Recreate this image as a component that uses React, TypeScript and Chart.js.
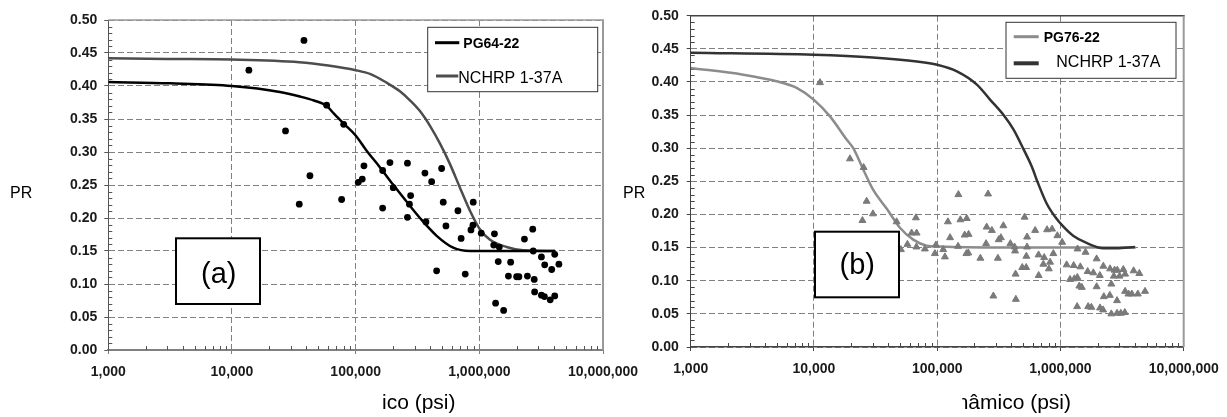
import React, { useEffect, useRef } from "react";
import { Chart, registerables } from "chart.js";

Chart.register(...registerables);

const FONT = "'Liberation Sans', Arial, Helvetica, sans-serif";
Chart.defaults.font.family = FONT;

// ---- axis ticks ----
const xTickValues = [1000, 10000, 100000, 1000000, 10000000];
const yTickValues = [0, 0.05, 0.1, 0.15, 0.2, 0.25, 0.3, 0.35, 0.4, 0.45, 0.5];

// ---- panel (a): PG64-22 measured points ----
const aDotsX = [
  38200, 13700, 58300, 27100, 80000, 42700, 35000, 77000, 116700, 105000,
  113100, 165300, 189400, 262300, 363200, 411600, 495700, 201400, 278400, 272200,
  165300, 262300, 370000, 510800, 671400, 892700, 537000, 887800, 855500, 712800,
  1036000, 1325000, 1307000, 1449000, 451600, 769200, 1422000, 1791000, 2316000, 2703000,
  2728000, 3177000, 4071000, 3378000, 3848000, 4401000, 1719000, 2003000, 2090000, 2448000,
  2779000, 2800000, 3177000, 3359000, 3742000, 4071000, 1354000, 1572000,
];
const aDotsY = [
  0.469, 0.424, 0.371, 0.332, 0.342, 0.264, 0.221, 0.228, 0.279, 0.254,
  0.259, 0.272, 0.284, 0.283, 0.268, 0.255, 0.275, 0.246, 0.234, 0.221,
  0.215, 0.201, 0.194, 0.224, 0.211, 0.224, 0.188, 0.189, 0.182, 0.169,
  0.177, 0.176, 0.159, 0.156, 0.120, 0.115, 0.134, 0.133, 0.168, 0.183,
  0.150, 0.141, 0.145, 0.129, 0.122, 0.130, 0.112, 0.111, 0.111, 0.112,
  0.107, 0.088, 0.083, 0.081, 0.076, 0.082, 0.071, 0.060,
];
// PG64-22 fitted curve
const aPG64X = [1000, 3150, 10000, 24400, 35500, 46000, 58300, 66800, 80000, 100000, 122700, 157000, 200000, 255000, 331000, 452000, 615000, 840000, 1460000, 4100000];
const aPG64Y = [0.406, 0.404, 0.400, 0.391, 0.384, 0.378, 0.370, 0.358, 0.343, 0.325, 0.302, 0.277, 0.251, 0.226, 0.200, 0.173, 0.155, 0.150, 0.150, 0.150];
// NCHRP 1-37A curve (a)
const aNchrpX = [1000, 3000, 10000, 35000, 60000, 100000, 132000, 178000, 228000, 276000, 331000, 398000, 480000, 578000, 697000, 840000, 1010000, 1220000, 1660000, 2250000, 4100000];
const aNchrpY = [0.442, 0.441, 0.440, 0.436, 0.431, 0.424, 0.418, 0.405, 0.392, 0.378, 0.362, 0.340, 0.313, 0.282, 0.246, 0.211, 0.183, 0.167, 0.156, 0.151, 0.150];

// ---- panel (b): PG76-22 measured points ----
const bPtsX = [
  11190, 19590, 25300, 26760, 24740, 30100, 46850, 67190, 62000, 68080,
  57330, 67800, 79470, 95790, 97590, 50770, 148600, 258700, 111900, 115500,
  122100, 154250, 173500, 127200, 167100, 179800, 147700, 172500, 178800, 224000,
  252000, 277700, 249200, 310700, 315400, 328600, 344300, 392500, 424300, 428400,
  432400, 511600, 536000, 536000, 529000, 489900, 527100, 623500, 664400, 737600,
  726700, 823500, 805200, 875700, 665600, 778500, 855000, 943900, 1032000, 285600,
  434800, 1123000, 1280000, 1450000, 1196000, 1296000, 1371000, 1376000, 1598000, 1966000,
  1662000, 1849000, 2087000, 2228000, 2525000, 2747000, 2894000, 3236000, 2711000, 3015000,
  3347000, 3924000, 4364000, 2587000, 1423000, 1491000, 1966000, 2249000, 2515000, 2878000,
  3347000, 3567000, 3794000, 4243000, 4855000, 1366000, 1678000, 1781000, 2095000, 2220000,
  2587000, 2878000, 3090000, 3328000,
];
const bPtsY = [
  0.399, 0.284, 0.271, 0.220, 0.191, 0.201, 0.189, 0.195, 0.172, 0.172,
  0.155, 0.151, 0.148, 0.141, 0.154, 0.147, 0.230, 0.231, 0.147, 0.136,
  0.189, 0.192, 0.194, 0.165, 0.169, 0.170, 0.152, 0.141, 0.142, 0.134,
  0.181, 0.176, 0.156, 0.134, 0.162, 0.165, 0.183, 0.156, 0.151, 0.145,
  0.110, 0.196, 0.166, 0.151, 0.137, 0.120, 0.120, 0.176, 0.139, 0.135,
  0.125, 0.128, 0.118, 0.141, 0.108, 0.177, 0.178, 0.168, 0.158, 0.077,
  0.072, 0.124, 0.123, 0.121, 0.102, 0.103, 0.105, 0.148, 0.143, 0.133,
  0.114, 0.112, 0.108, 0.122, 0.118, 0.116, 0.116, 0.117, 0.107, 0.107,
  0.110, 0.115, 0.111, 0.095, 0.092, 0.090, 0.091, 0.076, 0.078, 0.070,
  0.084, 0.080, 0.080, 0.080, 0.084, 0.061, 0.061, 0.060, 0.059, 0.056,
  0.050, 0.051, 0.051, 0.052,
];
// PG76-22 fitted curve
const bPG76X = [1000, 2670, 4980, 7240, 10000, 13490, 18420, 20830, 25110, 30270, 38870, 49840, 63890, 82040, 105200, 322500, 1000000, 4080000];
const bPG76Y = [0.421, 0.411, 0.401, 0.391, 0.373, 0.348, 0.313, 0.300, 0.268, 0.237, 0.209, 0.180, 0.162, 0.153, 0.1515, 0.150, 0.150, 0.150];
// NCHRP 1-37A curve (b)
const bNchrpX = [1000, 10000, 30000, 68460, 100000, 144500, 209900, 269400, 345500, 416500, 500000, 586000, 652000, 771000, 901000, 1052000, 1268000, 1629000, 2220000, 2850000, 4020000];
const bNchrpY = [0.444, 0.441, 0.437, 0.431, 0.426, 0.416, 0.396, 0.373, 0.350, 0.328, 0.299, 0.272, 0.249, 0.217, 0.197, 0.182, 0.168, 0.157, 0.149, 0.149, 0.151];

type Pt = { x: number; y: number };
const zip = (xs: number[], ys: number[]): Pt[] => xs.map((x, i) => ({ x, y: ys[i] }));

interface LegendRow {
  text: string; bold: boolean; size: number; color: string; lineWidth: number;
  x1: number; x2: number; ly: number; tx: number; ty: number;
}
interface Box { x: number; y: number; w: number; h: number }
interface Decor {
  pr: { x: number; y: number };
  title: { text: string; x: number; y: number; align: CanvasTextAlign; clipLeft?: number };
  legendBox: Box;
  legendRows: LegendRow[];
  tagBox: Box;
  tag: { text: string; x: number; y: number };
  topColor: string; topWidth: number;
  rightColor: string; rightWidth: number;
  minorColor: string;
}

function makeDecor(d: Decor) {
  return {
    id: "decor",
    beforeDatasetsDraw(chart: any) {
      const { ctx, chartArea: a, scales } = chart;
      ctx.save();
      ctx.lineWidth = d.topWidth;
      ctx.strokeStyle = d.topColor;
      ctx.beginPath();
      ctx.moveTo(a.left, a.top);
      ctx.lineTo(a.right + d.rightWidth / 2, a.top);
      ctx.stroke();
      ctx.lineWidth = d.rightWidth;
      ctx.strokeStyle = d.rightColor;
      ctx.beginPath();
      ctx.moveTo(a.right, a.top);
      ctx.lineTo(a.right, a.bottom);
      ctx.stroke();
      // minor ticks
      ctx.lineWidth = 1;
      ctx.strokeStyle = d.minorColor;
      ctx.beginPath();
      for (let k = 1; k < 50; k++) {
        if (k % 5 === 0) continue;
        const py = Math.round(scales.y.getPixelForValue(k / 100)) + 0.5;
        ctx.moveTo(a.left, py);
        ctx.lineTo(a.left + 4, py);
      }
      for (let e = 3; e < 7; e++) {
        for (let m = 2; m < 10; m++) {
          const px = Math.round(scales.x.getPixelForValue(m * Math.pow(10, e))) + 0.5;
          ctx.moveTo(px, a.bottom);
          ctx.lineTo(px, a.bottom - 4);
        }
      }
      ctx.stroke();
      ctx.restore();
    },
    afterDraw(chart: any) {
      const ctx: CanvasRenderingContext2D = chart.ctx;
      ctx.save();
      ctx.fillStyle = "#000";
      ctx.textBaseline = "alphabetic";
      // PR label
      ctx.font = `16px ${FONT}`;
      ctx.textAlign = "left";
      ctx.fillText("PR", d.pr.x, d.pr.y);
      // x title (clipped as in the source)
      ctx.save();
      if (d.title.clipLeft !== undefined) {
        ctx.beginPath();
        ctx.rect(d.title.clipLeft, 370, 400, 47);
        ctx.clip();
      }
      ctx.font = `21px ${FONT}`;
      ctx.textAlign = d.title.align;
      ctx.fillText(d.title.text, d.title.x, d.title.y);
      ctx.restore();
      // legend
      const lb = d.legendBox;
      ctx.fillStyle = "#fff";
      ctx.fillRect(lb.x, lb.y, lb.w, lb.h);
      ctx.strokeStyle = "#333";
      ctx.lineWidth = 1;
      ctx.strokeRect(lb.x, lb.y, lb.w, lb.h);
      for (const r of d.legendRows) {
        ctx.strokeStyle = r.color;
        ctx.lineWidth = r.lineWidth;
        ctx.beginPath();
        ctx.moveTo(r.x1, r.ly);
        ctx.lineTo(r.x2, r.ly);
        ctx.stroke();
        ctx.fillStyle = "#000";
        ctx.font = `${r.bold ? "bold " : ""}${r.size}px ${FONT}`;
        ctx.textAlign = "left";
        ctx.fillText(r.text, r.tx, r.ty);
      }
      // tag box
      const tb = d.tagBox;
      ctx.fillStyle = "#fff";
      ctx.fillRect(tb.x, tb.y, tb.w, tb.h);
      ctx.strokeStyle = "#000";
      ctx.lineWidth = 2;
      ctx.strokeRect(tb.x, tb.y, tb.w, tb.h);
      ctx.fillStyle = "#000";
      ctx.font = `29px ${FONT}`;
      ctx.textAlign = "center";
      ctx.fillText(d.tag.text, d.tag.x, d.tag.y);
      ctx.restore();
    },
  };
}

function xScale(borderColor: string, borderWidth: number) {
  return {
    type: "logarithmic",
    min: 1000,
    max: 10000000,
    afterBuildTicks: (s: any) => {
      s.ticks = xTickValues.map((v) => ({ value: v }));
    },
    afterFit: (s: any) => {
      s.height = 40;
      s.paddingLeft = 0;
      s.paddingRight = 0;
    },
    ticks: {
      autoSkip: false,
      maxRotation: 0,
      minRotation: 0,
      padding: 9.5,
      color: "#1a1a1a",
      font: { size: 14, weight: "bold" },
      callback: (v: any) => Number(v).toLocaleString("en-US"),
    },
    grid: { color: "#808080", lineWidth: 1, tickLength: 4, tickColor: borderColor, tickBorderDash: [] },
    border: { color: borderColor, width: borderWidth, dash: [6, 3] },
  };
}

function yScale(borderColor: string, pad: number) {
  return {
    type: "linear",
    min: 0,
    max: 0.5,
    afterBuildTicks: (s: any) => {
      s.ticks = yTickValues.map((v) => ({ value: v }));
    },
    afterFit: (s: any) => {
      s.width = 60;
      s.paddingTop = 0;
      s.paddingBottom = 0;
    },
    ticks: {
      autoSkip: false,
      padding: pad,
      color: "#1a1a1a",
      font: { size: 14, weight: "bold" },
      callback: (v: any) => Number(v).toFixed(2),
    },
    grid: { color: "#808080", lineWidth: 1, tickLength: 4, tickColor: borderColor, tickBorderDash: [] },
    border: { color: borderColor, width: 1, dash: [6, 3] },
  };
}

function lineSet(label: string, data: Pt[], color: string, width: number) {
  return {
    label,
    data,
    showLine: true,
    borderColor: color,
    backgroundColor: color,
    borderWidth: width,
    pointRadius: 0,
    pointHoverRadius: 0,
    cubicInterpolationMode: "monotone",
    tension: 0,
  };
}

function configA(): any {
  const decor = makeDecor({
    pr: { x: 10, y: 198.3 },
    title: { text: "ico (psi)", x: 382, y: 409, align: "left" },
    legendBox: { x: 427.7, y: 27.3, w: 170, h: 64.4 },
    legendRows: [
      { text: "PG64-22", bold: true, size: 14, color: "#000", lineWidth: 3, x1: 435, x2: 459.3, ly: 42.7, tx: 463.3, ty: 48.3 },
      { text: "NCHRP 1-37A", bold: false, size: 16, color: "#4d4d4d", lineWidth: 3, x1: 436, x2: 458.3, ly: 76, tx: 458.3, ty: 83.3 },
    ],
    tagBox: { x: 176, y: 238.3, w: 84, h: 65.7 },
    tag: { text: "(a)", x: 218.8, y: 283.2 },
    topColor: "#9a9a9a", topWidth: 1.5,
    rightColor: "#9a9a9a", rightWidth: 2,
    minorColor: "#555",
  });
  return {
    type: "scatter",
    data: {
      datasets: [
        {
          label: "PG64-22 data",
          data: zip(aDotsX, aDotsY),
          pointStyle: "circle",
          pointRadius: 3.4,
          pointBorderWidth: 0,
          backgroundColor: "#000",
          borderColor: "#000",
        },
        lineSet("PG64-22", zip(aPG64X, aPG64Y), "#000", 2.5),
        lineSet("NCHRP 1-37A", zip(aNchrpX, aNchrpY), "#4d4d4d", 2.5),
      ],
    },
    options: {
      responsive: false,
      animation: false,
      events: [],
      layout: { padding: { left: 48.3, right: 47, top: 20, bottom: 27 } },
      plugins: { legend: { display: false }, tooltip: { enabled: false } },
      scales: { x: xScale("#808080", 2), y: yScale("#555", 7) },
    },
    plugins: [decor],
  };
}

function configB(): any {
  const decor = makeDecor({
    pr: { x: 13, y: 198.3 },
    title: { text: "nâmico (psi)", x: 461, y: 409, align: "right", clipLeft: 352 },
    legendBox: { x: 396, y: 22.3, w: 170, h: 56 },
    legendRows: [
      { text: "PG76-22", bold: true, size: 14, color: "#8c8c8c", lineWidth: 3, x1: 403.7, x2: 428.7, ly: 36.7, tx: 433.7, ty: 42.3 },
      { text: "NCHRP 1-37A", bold: false, size: 16, color: "#333", lineWidth: 4, x1: 403.7, x2: 428.7, ly: 63.3, tx: 446.3, ty: 66.7 },
    ],
    tagBox: { x: 205, y: 231.7, w: 84, h: 65.6 },
    tag: { text: "(b)", x: 247.2, y: 274 },
    topColor: "#444", topWidth: 1.5,
    rightColor: "#9a9a9a", rightWidth: 2,
    minorColor: "#444",
  });
  return {
    type: "scatter",
    data: {
      datasets: [
        {
          label: "PG76-22 data",
          data: zip(bPtsX, bPtsY),
          pointStyle: "triangle",
          pointRadius: 4,
          pointBorderWidth: 1,
          backgroundColor: "#7a7a7a",
          borderColor: "#7a7a7a",
        },
        lineSet("NCHRP 1-37A", zip(bNchrpX, bNchrpY), "#333", 2.5),
        lineSet("PG76-22", zip(bPG76X, bPG76Y), "#8c8c8c", 2.5),
      ],
    },
    options: {
      responsive: false,
      animation: false,
      events: [],
      layout: { padding: { left: 20.7, right: 43.3, top: 15.7, bottom: 30 } },
      plugins: { legend: { display: false }, tooltip: { enabled: false } },
      scales: { x: xScale("#444", 1.5), y: yScale("#444", 8) },
    },
    plugins: [decor],
  };
}

function Panel({ left, width, makeConfig }: { left: number; width: number; makeConfig: () => any }) {
  const ref = useRef<HTMLCanvasElement>(null);
  useEffect(() => {
    const chart = new Chart(ref.current as HTMLCanvasElement, makeConfig());
    return () => chart.destroy();
  }, []);
  return (
    <canvas
      ref={ref}
      width={width}
      height={417}
      style={{ position: "absolute", left, top: 0, width, height: 417 }}
    />
  );
}

export default function App() {
  return (
    <div style={{ position: "absolute", left: 0, top: 0, width: 1227, height: 417, background: "#fff", overflow: "hidden" }}>
      <Panel left={0} width={650} makeConfig={configA} />
      <Panel left={610} width={617} makeConfig={configB} />
    </div>
  );
}
